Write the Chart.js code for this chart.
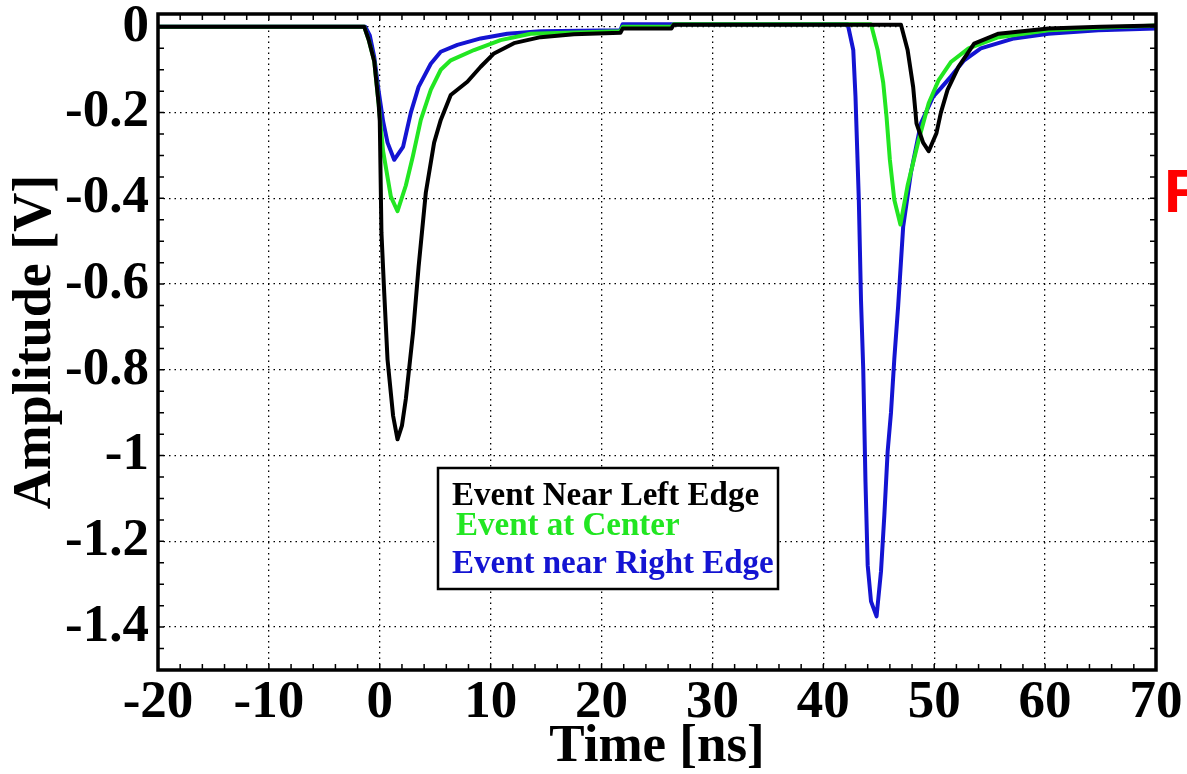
<!DOCTYPE html>
<html>
<head>
<meta charset="utf-8">
<script src="https://cdn.jsdelivr.net/npm/chart.js@4.4.1/dist/chart.umd.min.js"></script>
<style>
  body { margin: 0; background: #fff; }
  canvas { display: block; }
</style>
</head>
<body>
<canvas id="mycanvas" width="1187" height="774"></canvas>
<script>
// axis ticks
var xTicks = [-20, -10, 0, 10, 20, 30, 40, 50, 60, 70];
var yTicks = [0, -0.2, -0.4, -0.6, -0.8, -1, -1.2, -1.4];

var seriesLabels = ["Event Near Left Edge", "Event at Center", "Event near Right Edge"];

// time [ns] / amplitude [V]
var tBlack = [-20, -10, -1.4, -1.0, -0.5, -0.1, 0.0, 0.15, 0.4, 0.7, 1.2, 1.6, 2.0, 2.35, 3.0, 3.5, 4.15, 4.9, 5.5, 6.4, 7.9, 9.1, 10.3, 12.1, 14.5, 17.5, 21.7, 21.9, 26.3, 26.5, 35, 47.0, 47.6, 48.1, 48.4, 48.6, 49.0, 49.5, 50.2, 50.6, 51.2, 52.2, 53.6, 55.8, 60.3, 65, 70];
var vBlack = [0, 0, 0, -0.03, -0.08, -0.18, -0.22, -0.48, -0.62, -0.776, -0.907, -0.962, -0.93, -0.868, -0.713, -0.56, -0.387, -0.27, -0.217, -0.159, -0.128, -0.093, -0.062, -0.038, -0.024, -0.017, -0.014, -0.004, -0.004, 0.005, 0.005, 0.005, -0.054, -0.14, -0.225, -0.24, -0.27, -0.29, -0.248, -0.2, -0.147, -0.093, -0.039, -0.016, -0.004, 0, 0.003];

var tGreen = [-20, -10, -1.4, -1.0, -0.5, -0.1, 0.3, 1.0, 1.6, 2.35, 3.0, 3.7, 4.6, 5.5, 6.4, 8.5, 10.9, 13.6, 21.7, 21.9, 26.3, 26.5, 35, 44.3, 44.9, 45.4, 45.7, 46.0, 46.4, 46.95, 47.6, 48.6, 49.5, 50.4, 51.5, 53.1, 55.8, 60.3, 65, 70];
var vGreen = [0, 0, 0, -0.03, -0.08, -0.18, -0.29, -0.396, -0.43, -0.37, -0.30, -0.217, -0.147, -0.10, -0.078, -0.054, -0.031, -0.016, -0.01, 0, 0, 0.006, 0.006, 0.006, -0.054, -0.13, -0.21, -0.31, -0.403, -0.461, -0.37, -0.264, -0.178, -0.124, -0.082, -0.05, -0.024, -0.008, -0.002, 0.003];

var tBlue = [-20, -10, -1.3, -0.9, -0.5, -0.1, 0.3, 0.7, 1.3, 2.1, 2.8, 3.5, 4.6, 5.5, 7.0, 9.1, 11.5, 14.5, 21.7, 21.9, 35, 42.2, 42.7, 42.9, 43.2, 43.4, 43.6, 43.8, 44.0, 44.3, 44.8, 45.2, 45.5, 45.8, 46.1, 46.4, 46.75, 47.2, 47.9, 48.8, 49.9, 50.6, 51.5, 52.7, 54.2, 57.2, 60.3, 64.8, 70];
var vBlue = [0, 0, 0, -0.02, -0.07, -0.15, -0.22, -0.27, -0.31, -0.28, -0.20, -0.14, -0.086, -0.058, -0.042, -0.027, -0.016, -0.01, -0.008, 0.006, 0.006, 0.006, -0.054, -0.163, -0.403, -0.64, -0.80, -1.06, -1.256, -1.34, -1.375, -1.27, -1.14, -0.99, -0.90, -0.775, -0.65, -0.466, -0.34, -0.225, -0.163, -0.143, -0.116, -0.078, -0.05, -0.027, -0.016, -0.008, -0.004];

var colBlack = "#000000";
var colGreen = "#22e622";
var colBlue = "#1414d2";

function pts(t, v) {
    return t.map(function(x, i){ return {x: x, y: v[i]}; });
}

var serif = "'Liberation Serif', 'Times New Roman', serif";

// frame, inner minor ticks, boxed legend, cut-off red label
var framePlugin = {
    id: "frame",
    afterDatasetsDraw: function(chart) {
        var ctx = chart.ctx, a = chart.chartArea;
        var xs = chart.scales.x, ys = chart.scales.y;
        ctx.save();
        ctx.strokeStyle = "#000";
        ctx.lineWidth = 1.5;
        ctx.beginPath();
        for (var t = -20; t <= 70; t += 2) {
            var px = xs.getPixelForValue(t);
            ctx.moveTo(px, a.bottom); ctx.lineTo(px, a.bottom - 6);
            ctx.moveTo(px, a.top); ctx.lineTo(px, a.top + 6);
        }
        for (var k = 0; k <= 30; k++) {
            var py = ys.getPixelForValue(-k * 0.05);
            ctx.moveTo(a.left, py); ctx.lineTo(a.left + 6, py);
            ctx.moveTo(a.right, py); ctx.lineTo(a.right - 6, py);
        }
        ctx.stroke();

        ctx.lineWidth = 3.5;
        ctx.strokeRect(a.left, a.top, a.right - a.left, a.bottom - a.top);

        // legend box
        var lx = 438, ly = 468, lw = 340, lh = 121;
        ctx.fillStyle = "#fff";
        ctx.fillRect(lx, ly, lw, lh);
        ctx.lineWidth = 2.5;
        ctx.strokeRect(lx, ly, lw, lh);
        ctx.font = "bold 33px " + serif;
        ctx.textBaseline = "alphabetic";
        ctx.textAlign = "left";
        var cols = [colBlack, colGreen, colBlue];
        var ys2 = [505, 535, 573];
        var xs2 = [452, 456, 452];
        for (var i = 0; i < seriesLabels.length; i++) {
            ctx.fillStyle = cols[i];
            ctx.fillText(seriesLabels[i], xs2[i], ys2[i]);
        }

        ctx.fillStyle = "#ff0000";
        ctx.font = "bold 62px 'Liberation Sans', Arial, sans-serif";
        ctx.fillText("R", 1164, 212);
        ctx.restore();
    }
};

function noOverflow(s) {
    s.paddingTop = 0; s.paddingBottom = 0;
    s.paddingLeft = 0; s.paddingRight = 0;
}

var ctx = document.getElementById("mycanvas");
var chart = new Chart(ctx, {
    type: "scatter",
    data: {
        datasets: [
            { label: seriesLabels[0], data: pts(tBlack, vBlack), borderColor: colBlack, backgroundColor: colBlack },
            { label: seriesLabels[1], data: pts(tGreen, vGreen), borderColor: colGreen, backgroundColor: colGreen },
            { label: seriesLabels[2], data: pts(tBlue, vBlue), borderColor: colBlue, backgroundColor: colBlue }
        ]
    },
    options: {
        responsive: false,
        animation: false,
        showLine: true,
        elements: {
            line: { borderWidth: 4, tension: 0, borderJoinStyle: "round" },
            point: { radius: 0, hoverRadius: 0 }
        },
        layout: { padding: { left: 0, right: 31, top: 14, bottom: 0 } },
        plugins: {
            legend: { display: false },
            tooltip: { enabled: false }
        },
        scales: {
            x: {
                type: "linear",
                min: -20,
                max: 70,
                afterBuildTicks: function(s){ s.ticks = xTicks.map(function(v){ return {value: v}; }); },
                afterFit: function(s){ s.height = 104; noOverflow(s); },
                grid: { color: "#000", lineWidth: 1.3, drawTicks: false },
                border: { display: false, dash: [1.5, 4] },
                ticks: {
                    color: "#000",
                    padding: 2,
                    maxRotation: 0,
                    font: { family: serif, size: 53, weight: "bold" },
                    callback: function(v){ return String(v); }
                },
                title: {
                    display: true,
                    text: "Time [ns]",
                    color: "#000",
                    padding: 0,
                    font: { family: serif, size: 53, weight: "bold", lineHeight: 1 }
                }
            },
            y: {
                type: "linear",
                min: -1.5,
                max: 0.03,
                afterBuildTicks: function(s){ s.ticks = yTicks.map(function(v){ return {value: v}; }); },
                afterFit: function(s){ s.width = 158; noOverflow(s); },
                grid: { color: "#000", lineWidth: 1.3, drawTicks: false },
                border: { display: false, dash: [1.5, 4] },
                ticks: {
                    color: "#000",
                    padding: 9,
                    font: { family: serif, size: 53, weight: "bold" },
                    callback: function(v){ return String(+(+v).toFixed(1)); }
                },
                title: {
                    display: true,
                    text: "Amplitude [V]",
                    color: "#000",
                    padding: { top: 4, bottom: 0 },
                    font: { family: serif, size: 54, weight: "bold" }
                }
            }
        }
    },
    plugins: [framePlugin]
});
</script>
</body>
</html>
